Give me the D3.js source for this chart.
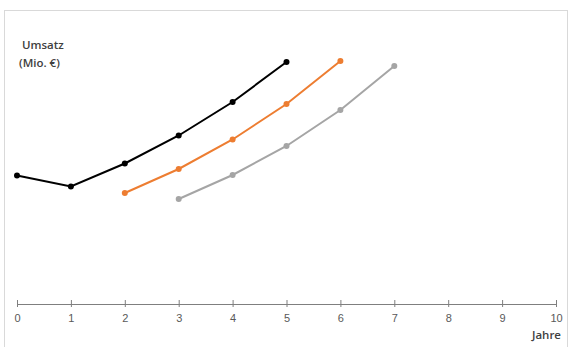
<!doctype html>
<html lang="de">
<head>
<meta charset="utf-8">
<script src="https://d3js.org/d3.v7.min.js"></script>
<style>
  body { margin: 0; background: #fff; }
  svg { font-family: "Open Sans", sans-serif; }
  .frame { fill: #fff; stroke: #d9d9d9; stroke-width: 1px; }
  .axis path, .axis line { stroke: #7f7f7f; }
  .axis text { fill: #595959; font-size: 11px; }
  .lbl { fill: #404040; font-size: 11.5px; font-weight: 600; }
</style>
</head>
<body>
<svg width="579" height="347"></svg>
<script>
// years on the x axis
const years = [0, 1, 2, 3, 4, 5, 6, 7, 8, 9, 10];

// Umsatz per series (Mio. €)
const blackYears = [0, 1, 2, 3, 4, 5];
const blackVals  = [12.85, 11.75, 14.05, 16.85, 20.2, 24.2];

const orangeYears = [2, 3, 4, 5, 6];
const orangeVals  = [11.1, 13.5, 16.45, 20.0, 24.3];

const grayYears = [3, 4, 5, 6, 7];
const grayVals  = [10.5, 12.9, 15.8, 19.4, 23.8];

const series = [
  { yrs: blackYears, vals: blackVals, color: "#000000" },
  { yrs: orangeYears, vals: orangeVals, color: "#ed7d31" },
  { yrs: grayYears, vals: grayVals, color: "#a5a5a5" }
];

const svg = d3.select("svg");

svg.append("rect").attr("class", "frame")
  .attr("x", 4.5).attr("y", 10.5).attr("width", 563).attr("height", 345);

const x = d3.scaleLinear().domain([0, 10]).range([17, 556]);
const y = d3.scaleLinear().domain([0, 30]).range([304, 4]);

const xAxis = d3.axisBottom(x)
  .tickValues(years)
  .tickSize(0)
  .tickPadding(10);

const gx = svg.append("g").attr("class", "axis")
  .attr("transform", "translate(0,304)")
  .call(xAxis);
gx.select(".domain").attr("stroke-width", 1);
gx.selectAll(".tick line").remove();
gx.selectAll(".tick").append("line")
  .attr("y1", -4).attr("y2", 3)
  .attr("stroke", "#7f7f7f");

svg.append("text").attr("class", "lbl").attr("x", 22).attr("y", 49).text("Umsatz");
svg.append("text").attr("class", "lbl").attr("x", 19).attr("y", 67).text("(Mio. €)");
svg.append("text").attr("class", "lbl").attr("x", 561).attr("y", 339)
  .attr("text-anchor", "end").text("Jahre");

const line = d3.line().x(d => x(d[0])).y(d => y(d[1]));

series.forEach(s => {
  const pts = s.yrs.map((yr, i) => [yr, s.vals[i]]);
  const g = svg.append("g");
  g.append("path")
    .attr("d", line(pts))
    .attr("fill", "none")
    .attr("stroke", s.color)
    .attr("stroke-width", 2);
  g.selectAll("circle").data(pts).enter().append("circle")
    .attr("cx", d => x(d[0]))
    .attr("cy", d => y(d[1]))
    .attr("r", 3)
    .attr("fill", s.color);
});
</script>
</body>
</html>
